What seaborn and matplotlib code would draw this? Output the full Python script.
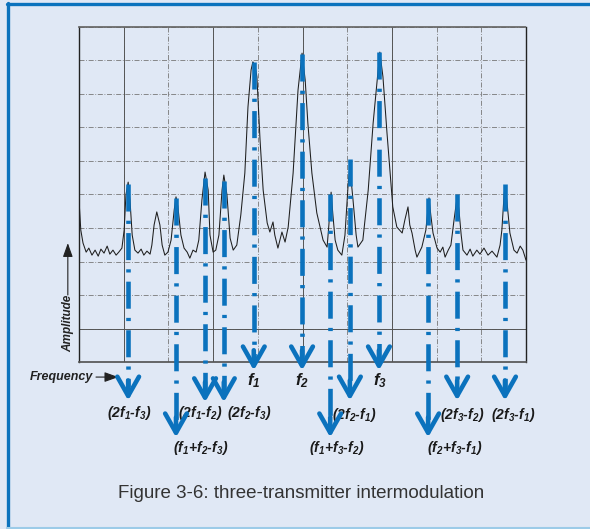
import numpy as np
import pandas as pd
import seaborn as sns
import matplotlib.pyplot as plt
from matplotlib.lines import Line2D

# spectrum trace (x: frequency divisions, y: amplitude divisions)
trace_x = [0.00, 0.04, 0.09, 0.16, 0.22, 0.29, 0.36, 0.43, 0.49, 0.56, 0.63, 0.69, 0.76, 0.83,
           0.89, 0.96, 1.01, 1.05, 1.10, 1.14, 1.19, 1.25, 1.32, 1.39, 1.45, 1.52, 1.59, 1.63,
           1.68, 1.74, 1.81, 1.86, 1.92, 1.99, 2.06, 2.13, 2.17, 2.21, 2.28, 2.35, 2.42, 2.48,
           2.55, 2.62, 2.68, 2.75, 2.82, 2.89, 2.93, 3.00, 3.06, 3.13, 3.20, 3.24, 3.31, 3.38,
           3.45, 3.53, 3.62, 3.71, 3.78, 3.85, 3.89, 3.94, 3.98, 4.05, 4.12, 4.21, 4.27, 4.34,
           4.38, 4.45, 4.54, 4.61, 4.68, 4.79, 4.90, 4.99, 5.06, 5.12, 5.21, 5.32, 5.46, 5.55,
           5.59, 5.64, 5.68, 5.73, 5.79, 5.88, 5.95, 6.02, 6.06, 6.13, 6.20, 6.24, 6.35, 6.47,
           6.58, 6.67, 6.73, 6.80, 6.89, 6.96, 7.02, 7.11, 7.23, 7.29, 7.36, 7.40, 7.45, 7.52,
           7.56, 7.67, 7.76, 7.83, 7.87, 7.92, 8.01, 8.08, 8.14, 8.19, 8.26, 8.32, 8.39, 8.46,
           8.50, 8.55, 8.59, 8.68, 8.75, 8.81, 8.90, 8.97, 9.06, 9.15, 9.24, 9.35, 9.42, 9.46,
           9.51, 9.53, 9.57, 9.64, 9.73, 9.80, 9.87, 9.93, 10.00]
trace_y = [4.84, 3.94, 3.55, 3.28, 3.40, 3.19, 3.34, 3.16, 3.37, 3.25, 3.46, 3.22, 3.34, 3.19,
           3.28, 3.40, 3.94, 4.99, 5.37, 4.84, 3.79, 3.34, 3.25, 3.37, 3.19, 3.31, 3.22, 3.49,
           4.09, 4.48, 4.09, 3.49, 3.19, 3.28, 3.64, 4.54, 4.93, 4.66, 3.79, 3.40, 3.28, 3.10,
           3.34, 3.28, 3.64, 4.84, 5.67, 5.13, 3.79, 3.28, 3.34, 3.79, 5.13, 5.58, 4.99, 3.70,
           3.34, 3.49, 4.39, 5.64, 7.61, 8.72, 8.96, 8.84, 8.51, 6.63, 5.13, 4.15, 3.88, 4.18,
           3.79, 3.40, 3.88, 3.58, 4.03, 5.64, 8.12, 9.22, 8.42, 7.13, 5.64, 4.45, 3.64, 3.43,
           4.09, 5.07, 4.39, 3.64, 3.34, 3.19, 3.79, 5.28, 5.82, 4.84, 3.79, 3.43, 3.64, 5.13,
           7.13, 8.42, 9.25, 8.51, 6.84, 5.64, 4.63, 4.03, 3.85, 4.24, 4.63, 4.09, 3.85, 3.34,
           3.13, 3.43, 3.94, 4.90, 4.39, 3.85, 3.40, 3.28, 3.43, 3.13, 3.34, 3.49, 4.24, 4.93,
           4.54, 3.79, 3.34, 3.19, 3.37, 3.16, 3.34, 3.22, 3.40, 3.19, 3.31, 3.13, 3.49, 3.94,
           4.99, 5.22, 4.84, 3.85, 3.34, 3.25, 3.46, 3.34, 3.04]

# intermodulation / carrier arrows
arrow_labels = ["(2f$_1$-f$_3$)", "(f$_1$+f$_2$-f$_3$)", "(2f$_1$-f$_2$)", "(2f$_2$-f$_3$)",
                "f$_1$", "f$_2$", "(f$_1$+f$_3$-f$_2$)", "(2f$_2$-f$_1$)", "f$_3$",
                "(f$_2$+f$_3$-f$_1$)", "(2f$_3$-f$_2$)", "(2f$_3$-f$_1$)"]
arrow_x = [1.10, 2.17, 2.82, 3.24, 3.91, 4.99, 5.62, 6.06, 6.71, 7.81, 8.46, 9.53]
arrow_top = [5.3, 4.9, 5.5, 5.4, 8.95, 9.2, 5.0, 6.05, 9.25, 4.9, 5.0, 5.3]
arrow_tip = [-1.15, -2.25, -1.2, -1.2, -0.25, -0.25, -2.25, -1.15, -0.25, -2.25, -1.15, -1.15]
label_x = [1.12, 2.71, 2.71, 3.80, 3.91, 4.99, 5.77, 6.15, 6.73, 8.41, 8.57, 9.71]
label_y = [-1.52, -2.57, -1.52, -1.52, -0.57, -0.57, -2.57, -1.58, -0.57, -2.57, -1.58, -1.58]

blue = "#0b72bd"
bg = "#e0e8f5"

sns.set_theme(style="white")
plt.rcParams['font.family'] = ['Liberation Sans', 'DejaVu Sans']
plt.rcParams['mathtext.fontset'] = 'custom'
plt.rcParams['mathtext.it'] = 'Liberation Sans:bold:italic'
plt.rcParams['mathtext.rm'] = 'Liberation Sans:bold:italic'
plt.rcParams['mathtext.bf'] = 'Liberation Sans:bold:italic'

fig = plt.figure(figsize=(5.9, 5.29), dpi=100)
fig.patch.set_facecolor(bg)
ax = fig.add_axes([79/590, 1 - 362/529, 447/590, 335/529])
ax.patch.set_alpha(0)

spectrum = pd.DataFrame({'freq': trace_x, 'amp': trace_y})
sns.lineplot(data=spectrum, x='freq', y='amp', color='#1e1e1e', lw=0.75, ax=ax, zorder=3)

ax.set_xlim(0, 10)
ax.set_ylim(0, 10)
ax.set_xticks(range(11))
ax.set_yticks(range(11))
ax.tick_params(length=0, labelbottom=False, labelleft=False)
ax.set_xlabel('')
ax.set_ylabel('')
ax.grid(True, color='#777777', lw=0.6, linestyle=(0, (6, 2, 1, 2)))
for gx in [1, 3, 5, 7]:
    ax.axvline(gx, color='#555555', lw=0.7, zorder=1)
ax.axhline(1, color='#555555', lw=0.7, zorder=1)
for side in ['left', 'right']:
    ax.spines[side].set_color('#222222')
    ax.spines[side].set_linewidth(1.0)
ax.spines['top'].set_color('#666666')
ax.spines['top'].set_linestyle((0, (2, 1)))
ax.spines['bottom'].set_color('#555555')
ax.spines['bottom'].set_linestyle((0, (4, 1)))

for x, top, tip, lab, lx, ly in zip(arrow_x, arrow_top, arrow_tip, arrow_labels, label_x, label_y):
    ax.plot([x, x], [top, tip + 0.4], color=blue, lw=3.3, linestyle=(0, (5.9, 2.0, 0.7, 2.0)),
            zorder=4, clip_on=False)
    ax.annotate('', xy=(x, tip), xytext=(x, tip + 0.6),
                arrowprops=dict(arrowstyle='->,head_length=1.15,head_width=0.65', color=blue,
                                lw=3.3, shrinkA=0, shrinkB=0),
                annotation_clip=False, zorder=5)
    fs = 12 if lab.startswith('f') else 10
    ax.text(lx, ly, lab, ha='center', va='center', fontsize=fs, weight='bold',
            style='italic', color='#1a1a1a', clip_on=False)

# axis captions
ax.text(-0.25, 1.16, 'Amplitude', rotation=90, ha='center', va='center', fontsize=8.5,
        weight='bold', style='italic', color='#222222', clip_on=False)
ax.annotate('', xy=(-0.25, 3.55), xytext=(-0.25, 2.0),
            arrowprops=dict(arrowstyle='-|>,head_length=0.7,head_width=0.25', color='#222222',
                            lw=0.8, shrinkA=0, shrinkB=0), annotation_clip=False)
ax.text(0.31, -0.45, 'Frequency', ha='right', va='center', fontsize=9,
        weight='bold', style='italic', color='#222222', clip_on=False)
ax.annotate('', xy=(0.88, -0.45), xytext=(0.38, -0.45),
            arrowprops=dict(arrowstyle='-|>,head_length=0.7,head_width=0.25', color='#222222',
                            lw=0.8, shrinkA=0, shrinkB=0), annotation_clip=False)

fig.text(0.51, 1 - 493/529, 'Figure 3-6: three-transmitter intermodulation', ha='center',
         va='center', fontsize=13.5, color='#333333')

# frame of the figure box
fig.add_artist(Line2D([7/590, 1], [1 - 4/529, 1 - 4/529], color=blue, lw=2.4))
fig.add_artist(Line2D([7.5/590, 7.5/590], [0, 1 - 3/529], color=blue, lw=2.4))
fig.add_artist(Line2D([7/590, 1], [1.5/529, 1.5/529], color='#9ccbe8', lw=1.5))

fig.savefig('out.png', dpi=100, facecolor=fig.get_facecolor())
